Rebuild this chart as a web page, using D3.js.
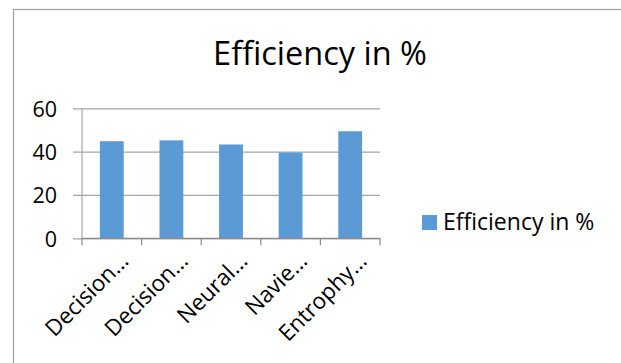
<!DOCTYPE html>
<html>
<head>
<meta charset="utf-8">
<script src="https://cdn.jsdelivr.net/npm/d3@7"></script>
<style>
  html, body { margin: 0; padding: 0; background: #fff; }
  svg { display: block; }
  text { font-family: "Open Sans", Lato, sans-serif; fill: #000; }
</style>
</head>
<body>
<svg id="chart" width="621" height="363"></svg>
<script>
const categories = ["Decision…", "Decision…", "Neural…", "Navie…", "Entrophy…"];
const values = [44.8, 45.2, 43.3, 39.6, 49.4];
const yTicks = [0, 20, 40, 60];
const seriesName = "Efficiency in %";
const title = "Efficiency in %";

const svg = d3.select("#chart");
const W = 621, H = 363;
const plot = { left: 82, right: 380, top: 108.3, bottom: 238.3 };
const barColor = "#5b9bd5";
const gridColor = "#a6a6a6";
const FONT = "'Open Sans', Lato, sans-serif";

svg.append("rect").attr("width", W).attr("height", H).attr("fill", "#fff");
// chart area border (extends past the right and bottom edges)
svg.append("rect")
  .attr("x", 13.5).attr("y", 9.5)
  .attr("width", W + 20).attr("height", H + 20)
  .attr("fill", "none").attr("stroke", "#a0a0a0").attr("stroke-width", 1.2);

const x = d3.scaleBand()
  .domain(d3.range(categories.length))
  .range([plot.left, plot.right])
  .paddingInner(0.6).paddingOuter(0.3);

const y = d3.scaleLinear().domain([0, 60]).range([plot.bottom, plot.top]);

// title
svg.append("text")
  .attr("x", 320).attr("y", 65)
  .attr("text-anchor", "middle")
  .attr("font-size", 32.5)
  .text(title);

// gridlines + y labels via axis
const yAxis = d3.axisLeft(y).tickValues(yTicks).tickSize(0).tickPadding(0);
const gy = svg.append("g")
  .attr("transform", `translate(${plot.left - 9},0)`)
  .call(yAxis);
gy.select(".domain").remove();
gy.selectAll(".tick line")
  .attr("x1", 0).attr("x2", plot.right - plot.left + 9)
  .attr("stroke", gridColor).attr("stroke-width", 1.2);
gy.selectAll(".tick text")
  .attr("x", -16).attr("dy", "0.36em")
  .attr("font-size", 21.5)
  .attr("font-family", FONT)
  .attr("fill", "#000");

// y axis line
svg.append("line")
  .attr("x1", plot.left).attr("x2", plot.left)
  .attr("y1", plot.top).attr("y2", plot.bottom)
  .attr("stroke", gridColor).attr("stroke-width", 1.2);

// bars
svg.append("g").selectAll("rect")
  .data(values)
  .join("rect")
  .attr("x", (d, i) => x(i))
  .attr("width", x.bandwidth())
  .attr("y", d => y(d))
  .attr("height", d => y(0) - y(d))
  .attr("fill", barColor);

// x axis line + boundary ticks
const step = x.step();
svg.append("line")
  .attr("x1", plot.left).attr("x2", plot.right)
  .attr("y1", plot.bottom).attr("y2", plot.bottom)
  .attr("stroke", "#8c8c8c").attr("stroke-width", 1.2);
svg.append("g").selectAll("line")
  .data(d3.range(categories.length + 1))
  .join("line")
  .attr("x1", i => plot.left + i * step).attr("x2", i => plot.left + i * step)
  .attr("y1", plot.bottom).attr("y2", plot.bottom + 7)
  .attr("stroke", "#8c8c8c").attr("stroke-width", 1.2);

// x labels rotated -45
svg.append("g").selectAll("text")
  .data(categories)
  .join("text")
  .attr("transform", (d, i) => `translate(${x(i) + x.bandwidth() / 2 + 18},${plot.bottom + 24}) rotate(-45)`)
  .attr("text-anchor", "end")
  .attr("font-size", 22.5)
  .text(d => d);

// legend
svg.append("rect")
  .attr("x", 422).attr("y", 215).attr("width", 15).attr("height", 15)
  .attr("fill", barColor);
svg.append("text")
  .attr("x", 443).attr("y", 229.5)
  .attr("font-size", 23)
  .text(seriesName);
</script>
</body>
</html>
